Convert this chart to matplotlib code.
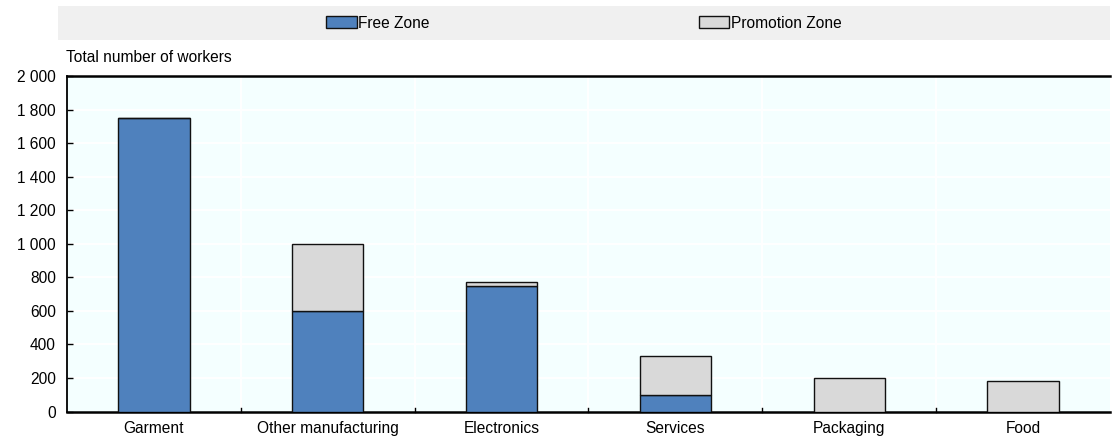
import matplotlib.pyplot as plt
import numpy as np
from matplotlib.patches import Rectangle, Patch

# data
categories = ["Garment", "Other manufacturing", "Electronics", "Services", "Packaging", "Food"]
free_zone = [1750, 600, 750, 100, 0, 0]
promotion_zone = [0, 400, 20, 230, 200, 180]
y_ticks = [0, 200, 400, 600, 800, 1000, 1200, 1400, 1600, 1800, 2000]

blue = '#4F81BD'
grey = '#D9D9D9'

plt.rcParams['font.family'] = ['Liberation Sans', 'DejaVu Sans']
plt.rcParams['font.size'] = 11.2

fig = plt.figure(figsize=(11.16, 4.4), dpi=100)
ax = fig.add_axes([67 / 1116, 1 - 411.5 / 440, (1110 - 67) / 1116, (411.5 - 76) / 440])
ax.set_facecolor('#F4FFFF')

x = np.arange(len(categories))
fz = np.array(free_zone)
pz = np.array(promotion_zone)
ax.bar(x, fz, width=0.41, color=blue, edgecolor='#111111', linewidth=1.0, zorder=3)
ax.bar(x, pz, width=0.41, bottom=fz, color=grey, edgecolor='#111111', linewidth=1.0, zorder=3)

ax.set_xlim(-0.5, len(categories) - 0.5)
ax.set_ylim(0, 2000)
ax.set_yticks(y_ticks)
ax.set_yticklabels([f"{v:,}".replace(",", " ") for v in y_ticks])
ax.set_xticks(x)
ax.set_xticklabels(categories)
ax.tick_params(axis='x', length=0, pad=7)
ax.tick_params(axis='y', direction='in', length=4, width=1, pad=8)

# white grid: horizontal at y ticks, vertical at category borders
for v in y_ticks[1:-1]:
    ax.axhline(v, color='white', linewidth=1.4, zorder=1)
for b in np.arange(0.5, len(categories) - 0.5):
    ax.axvline(b, color='white', linewidth=1.4, zorder=1)
    ax.plot([b, b], [0, 22], color='black', linewidth=1, zorder=4, clip_on=False)

for s in ['left', 'bottom', 'top']:
    ax.spines[s].set_color('black')
ax.spines['left'].set_linewidth(1.3)
ax.spines['bottom'].set_linewidth(1.8)
ax.spines['top'].set_linewidth(1.8)
ax.spines['right'].set_visible(False)

fig.text(66 / 1116, 1 - 58 / 440, "Total number of workers", ha='left', va='center')

# legend band
fig.patches.append(Rectangle((58 / 1116, 1 - 40 / 440), (1110 - 58) / 1116, 34 / 440,
                             transform=fig.transFigure, facecolor='#F0F0F0', edgecolor='none', zorder=0))
handles = [Patch(facecolor=blue, edgecolor='#111111', linewidth=1.0, label='Free Zone'),
           Patch(facecolor=grey, edgecolor='#111111', linewidth=1.0, label='Promotion Zone')]
fig.legend(handles=handles, loc='center', bbox_to_anchor=(584 / 1116, 1 - 23 / 440), ncol=2,
           frameon=False, handlelength=1.95, handleheight=0.85, handletextpad=0.1,
           columnspacing=17.3)

fig.savefig('out.png', dpi=100)
